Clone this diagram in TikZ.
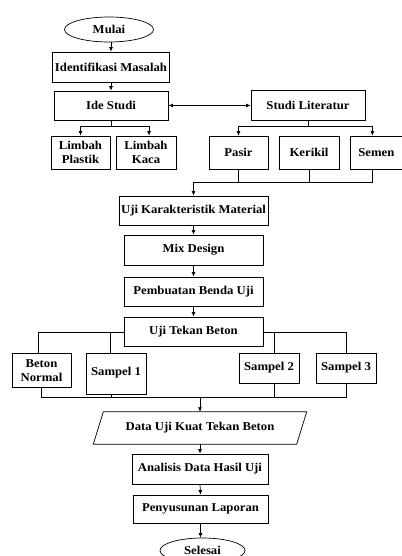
\documentclass[tikz,border=0pt]{standalone}
\usepackage{fontspec}
\setmainfont{Liberation Serif}[FakeStretch=1.06]
\usetikzlibrary{shapes.geometric,arrows.meta}
\tikzset{
  box/.style={draw, line width=0.7pt, rectangle, inner sep=0pt, align=center,
    font=\fontsize{12}{14}\selectfont\bfseries},
  term/.style={draw, line width=0.7pt, ellipse, inner sep=0pt,
    font=\fontsize{12}{14}\selectfont\bfseries},
  ln/.style={line width=0.7pt},
  arr/.style={line width=0.7pt, -{Latex[length=4.5pt,width=4pt]}},
  darr/.style={line width=0.7pt, {Latex[length=4.5pt,width=4pt]}-{Latex[length=4.5pt,width=4pt]}},
}
\begin{document}
\begin{tikzpicture}[x=1pt,y=1pt]
\useasboundingbox (0,0) rectangle (401,-556);
% nodes
\node[term, minimum width=89, minimum height=25] (mulai) at (109,-29.5) {Mulai};
\node[box, minimum width=117, minimum height=30] (ident) at (111,-67) {Identifikasi Masalah};
\node[box, minimum width=114, minimum height=29] (ide) at (111,-105.5) {Ide Studi};
\node[box, minimum width=114, minimum height=30] (lit) at (308,-105) {Studi Literatur};
\node[box, minimum width=59, minimum height=33] (lp) at (80.5,-152.5) {Limbah\\Plastik};
\node[box, minimum width=60, minimum height=33] (lk) at (146,-152.5) {Limbah\\Kaca};
\node[box, minimum width=59, minimum height=33] (pasir) at (238.5,-152.5) {Pasir};
\node[box, minimum width=60, minimum height=33] (kerikil) at (309,-152.5) {Kerikil};
\node[box, minimum width=56, minimum height=33, anchor=west] (semen) at (350,-152.5) {\hspace*{2pt}Semen\hspace*{6pt}};
\node[box, minimum width=149, minimum height=29] (ujik) at (193.5,-210.5) {Uji Karakteristik Material};
\node[box, minimum width=139, minimum height=30] (mix) at (193.5,-250) {Mix Design};
\node[box, minimum width=139, minimum height=29] (pemb) at (193.5,-291.5) {Pembuatan Benda Uji};
\node[box, minimum width=139, minimum height=29] (uji) at (193.5,-331.5) {Uji Tekan Beton};
\node[box, minimum width=59, minimum height=34] (bn) at (41.5,-370.5) {Beton\\Normal};
\node[box, minimum width=60, minimum height=41] (s1) at (116,-373.5) {\raisebox{4pt}{Sampel 1}};
\node[box, minimum width=60, minimum height=30] (s2) at (269,-368) {Sampel 2};
\node[box, minimum width=60, minimum height=30] (s3) at (346,-368) {Sampel 3};
\node[font=\fontsize{12}{14}\selectfont\bfseries, minimum width=203, minimum height=32, inner sep=0pt] (data) at (200,-428) {Data Uji Kuat Tekan Beton};
\draw[ln] ([xshift=-5]data.south west) -- ([xshift=5]data.north west) -- ([xshift=5]data.north east) -- ([xshift=-5]data.south east) -- cycle;
\node[box, minimum width=136, minimum height=30] (anal) at (200,-469) {Analisis Data Hasil Uji};
\node[box, minimum width=135, minimum height=28] (peny) at (200.5,-509) {Penyusunan Laporan};
\node[term, minimum width=85, minimum height=25] (selesai) at (202.5,-550.5) {Selesai};
% junction coordinates
\coordinate (j1) at (111,-126);
\coordinate (j2) at (308,-126);
\coordinate (j3) at (193.5,-182);
\coordinate (jl) at (38,-332);
\coordinate (jr) at (346,-332);
\coordinate (jb) at (200,-397.5);
% connectors
\draw[arr] (ident.north |- mulai.south) -- (ident.north);
\draw[arr] (ident.south) -- (ide.north);
\draw[darr] (ide.east) -- (lit.west |- ide.east);
\draw[ln] (ide.south) -- (j1);
\draw[arr] (j1) -| (lp.north);
\draw[arr] (j1) -| ([xshift=3]lk.north);
\draw[ln] (lit.south) -- (j2);
\draw[arr] (j2) -| (pasir.north);
\draw[arr] (j2) -| ([xshift=-6]semen.north);
\draw[ln] (pasir.south) |- (j3);
\draw[ln] ([xshift=-6]semen.south) |- (j3);
\draw[ln] (kerikil.south) -- (kerikil.south |- j3);
\draw[arr] (j3) -- (ujik.north);
\draw[arr] (ujik.south) -- (mix.north);
\draw[arr] (mix.south) -- (pemb.north);
\draw[arr] (pemb.south) -- (uji.north);
\draw[ln] (uji.west |- jl) -- (jl) -- ([xshift=-3.5]bn.north);
\draw[ln] ([xshift=-6]s1.north |- jl) -- ([xshift=-6]s1.north);
\draw[ln] (uji.east |- jr) -- (jr) -- (s3.north);
\draw[ln] ([xshift=5]s2.north |- jr) -- ([xshift=5]s2.north);
\draw[ln] (bn.south) |- (jb);
\draw[ln] ([xshift=-5]s1.south) -- ([xshift=-5]s1.south |- jb);
\draw[ln] ([xshift=5]s2.south) -- ([xshift=5]s2.south |- jb);
\draw[ln] (s3.south) |- (jb);
\draw[arr] (jb) -- (data.north);
\draw[arr] (data.south) -- (anal.north);
\draw[arr] (anal.south) -- (peny.north);
\draw[arr] (peny.south) -- (selesai.north -| peny.south);
\end{tikzpicture}
\end{document}
